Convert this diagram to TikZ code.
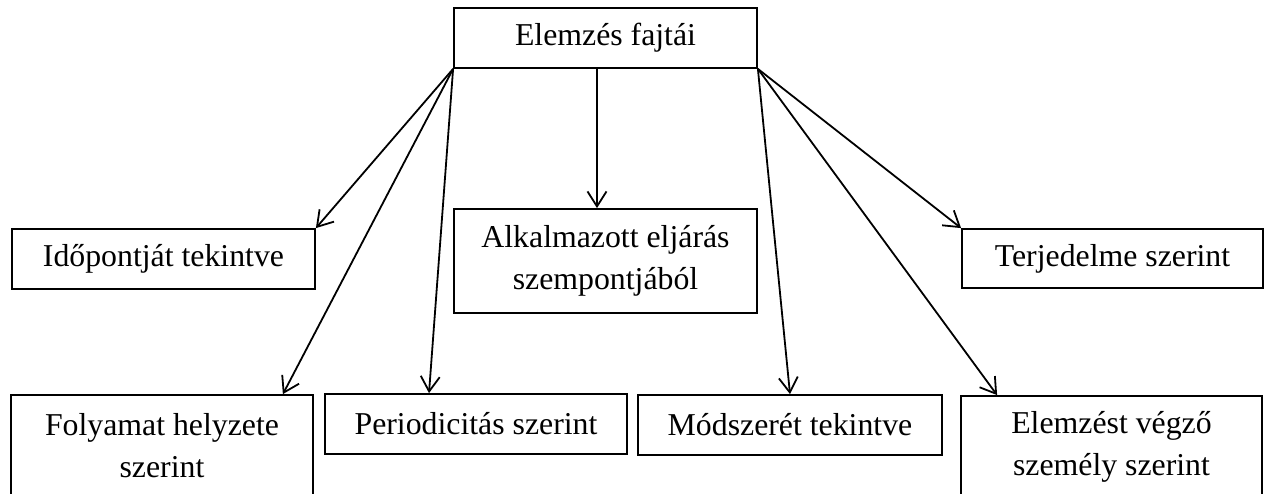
\documentclass[tikz,border=0pt]{standalone}
\usepackage{fontspec}
\setmainfont{Liberation Serif}
\usetikzlibrary{arrows.meta}
\begin{document}
\begin{tikzpicture}[x=1pt,y=-1pt,
  box/.style={draw,line width=1.8pt,inner sep=0pt,align=center,
    font=\fontsize{31.8}{42}\selectfont},
  conn/.style={line width=1.8pt,-{Straight Barb[length=15pt,width=19pt,line width=1.8pt]}}]
\clip (0,0) rectangle (1267,493);
\node[box,minimum width=303pt,minimum height=60pt] (top) at (605.5,38) {Elemzés fajtái};
\node[box,minimum width=303pt,minimum height=60pt] (ido) at (163.5,259) {Időpontját tekintve};
\node[box,minimum width=303pt,minimum height=104pt] (alk) at (605.5,261) {Alkalmazott eljárás\\szempontjából};
\node[box,minimum width=301pt,minimum height=59pt] (ter) at (1112.5,258.5) {Terjedelme szerint};
\node[box,minimum width=302pt,minimum height=102pt] (fol) at (162,446) {Folyamat helyzete\\szerint};
\node[box,minimum width=302pt,minimum height=60pt] (per) at (476,424) {Periodicitás szerint};
\node[box,minimum width=304pt,minimum height=60pt] (mod) at (790,425) {Módszerét tekintve};
\node[box,minimum width=301pt,minimum height=102pt] (elv) at (1111.5,447) {Elemzést végző\\személy szerint};
\draw[conn] (top.south west) -- (ido.north east);
\draw[conn] (top.south west) -- ([xshift=-31pt]fol.north east);
\draw[conn] (top.south west) -- ([xshift=-47pt]per.north);
\draw[conn] ([xshift=-8.5pt]top.south) -- ([xshift=-8.5pt]alk.north);
\draw[conn] (top.south east) -- (ter.north west);
\draw[conn] (top.south east) -- (mod.north);
\draw[conn] (top.south east) -- ([xshift=37pt]elv.north west);
\end{tikzpicture}
\end{document}
